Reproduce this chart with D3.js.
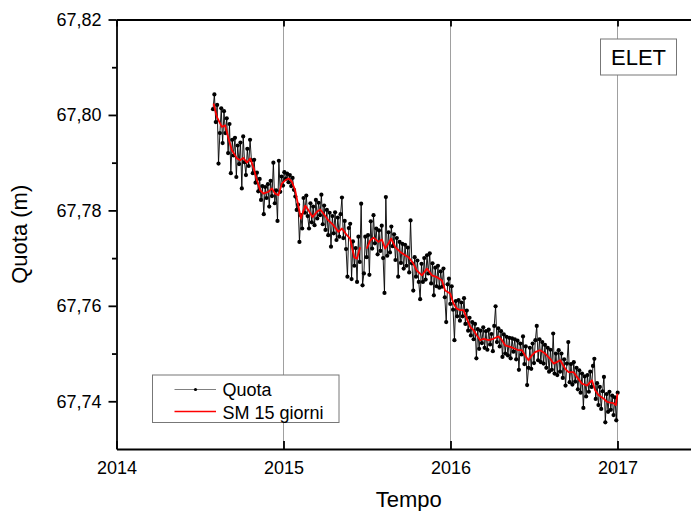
<!DOCTYPE html>
<html>
<head>
<meta charset="utf-8">
<script src="https://cdn.jsdelivr.net/npm/d3@7"></script>
<style>
body { margin: 0; background: #fff; }
svg { display: block; font-family: 'Liberation Sans', Arial, sans-serif; }
</style>
</head>
<body>
<svg id="chart"></svg>
<script>
// Quota: one reading every 3 days from late July 2014 to end of 2016
const quotaStart = 2014.578
const quotaStepDays = 3
const quotaValues = [
    67.8012, 67.8043, 67.7985, 67.8021, 67.7898, 67.7962, 67.8014, 67.7941, 67.8008, 67.7962,
    67.7993, 67.7920, 67.7981, 67.7878, 67.7948, 67.7915, 67.7952, 67.7870, 67.7936, 67.7897,
    67.7942, 67.7846, 67.7955, 67.7901, 67.7874, 67.7929, 67.7893, 67.7948, 67.7905, 67.7878,
    67.7906, 67.7858, 67.7879, 67.7840, 67.7866, 67.7822, 67.7851, 67.7792, 67.7849, 67.7826,
    67.7855, 67.7808, 67.7862, 67.7830, 67.7900, 67.7815, 67.7842, 67.7778, 67.7904, 67.7839,
    67.7871, 67.7852, 67.7880, 67.7866, 67.7877, 67.7859, 67.7874, 67.7851, 67.7868, 67.7843,
    67.7829, 67.7801, 67.7812, 67.7734, 67.7790, 67.7762, 67.7826, 67.7795, 67.7831, 67.7788,
    67.7762, 67.7815, 67.7775, 67.7808, 67.7769, 67.7822, 67.7783, 67.7816, 67.7790, 67.7833,
    67.7771, 67.7810, 67.7759, 67.7801, 67.7748, 67.7795, 67.7724, 67.7788, 67.7752, 67.7796,
    67.7738, 67.7785, 67.7745, 67.7792, 67.7827, 67.7742, 67.7778, 67.7719, 67.7661, 67.7763,
    67.7772, 67.7656, 67.7735, 67.7684, 67.7721, 67.7650, 67.7745, 67.7692, 67.7814, 67.7643,
    67.7668, 67.7745, 67.7702, 67.7748, 67.7665, 67.7777, 67.7720, 67.7790, 67.7731, 67.7762,
    67.7708, 67.7758, 67.7715, 67.7768, 67.7700, 67.7627, 67.7828, 67.7705, 67.7754, 67.7712,
    67.7766, 67.7725, 67.7750, 67.7696, 67.7742, 67.7661, 67.7734, 67.7690, 67.7730, 67.7678,
    67.7728, 67.7684, 67.7722, 67.7670, 67.7779, 67.7689, 67.7632, 67.7702, 67.7661, 67.7695,
    67.7650, 67.7614, 67.7688, 67.7650, 67.7700, 67.7655, 67.7706, 67.7668, 67.7710, 67.7647,
    67.7689, 67.7622, 67.7680, 67.7641, 67.7684, 67.7638, 67.7672, 67.7640, 67.7678, 67.7618,
    67.7566, 67.7645, 67.7657, 67.7604, 67.7641, 67.7592, 67.7528, 67.7610, 67.7578, 67.7612,
    67.7569, 67.7607, 67.7578, 67.7616, 67.7562, 67.7590, 67.7548, 67.7575, 67.7538, 67.7566,
    67.7530, 67.7562, 67.7490, 67.7551, 67.7510, 67.7548, 67.7522, 67.7555, 67.7512, 67.7547,
    67.7508, 67.7550, 67.7519, 67.7541, 67.7505, 67.7558, 67.7599, 67.7524, 67.7553, 67.7515,
    67.7547, 67.7493, 67.7540, 67.7500, 67.7535, 67.7496, 67.7533, 67.7490, 67.7532, 67.7504,
    67.7530, 67.7488, 67.7527, 67.7466, 67.7521, 67.7498, 67.7536, 67.7478, 67.7515, 67.7434,
    67.7470, 67.7512, 67.7468, 67.7521, 67.7480, 67.7528, 67.7558, 67.7486, 67.7530, 67.7482,
    67.7524, 67.7479, 67.7518, 67.7470, 67.7512, 67.7462, 67.7508, 67.7466, 67.7542, 67.7458,
    67.7500, 67.7455, 67.7507, 67.7462, 67.7500, 67.7449, 67.7488, 67.7433, 67.7479, 67.7524,
    67.7440, 67.7478, 67.7435, 67.7482, 67.7441, 67.7470, 67.7425, 67.7465, 67.7418, 67.7458,
    67.7386, 67.7452, 67.7410, 67.7455, 67.7420, 67.7462, 67.7430, 67.7474, 67.7489, 67.7405,
    67.7438, 67.7392, 67.7430, 67.7384, 67.7421, 67.7451, 67.7356, 67.7415, 67.7378, 67.7420,
    67.7382, 67.7412, 67.7371, 67.7408, 67.7360, 67.7418
]

// SM 15 giorni (moving average); null = gap
const smTimes = [
    2014.581, 2014.601, 2014.631, 2014.651, 2014.671, 2014.691, 2014.721, 2014.741, 2014.759, 2014.781,
    2014.801, 2014.820, 2014.841, 2014.861, 2014.880, 2014.910, 2014.931, 2014.950, 2014.970, 2014.990,
    2015.010, 2015.030, 2015.050, 2015.070, 2015.090, 2015.104, 2015.130, 2015.150, 2015.174, 2015.200,
    2015.220, 2015.240, 2015.269, 2015.299, 2015.329, 2015.350, 2015.380, 2015.399, 2015.423, 2015.440,
    2015.459, 2015.480, 2015.499, 2015.519, 2015.539, 2015.569, 2015.589, 2015.609, 2015.629, 2015.645,
    2015.669, 2015.699, 2015.729, 2015.749, 2015.778, 2015.798, 2015.829, 2015.859, 2015.889, 2015.919,
    2015.949, 2015.968, 2015.998, 2016.018, 2016.038, 2016.058, 2016.078, 2016.098, 2016.118, 2016.138,
    2016.158, 2016.178, 2016.198, 2016.228, 2016.257, 2016.287, 2016.308, 2016.328, 2016.357, 2016.387,
    2016.407, 2016.428, 2016.447, 2016.467, 2016.487, 2016.507, 2016.537, 2016.567, 2016.597, 2016.617,
    2016.637, 2016.657, 2016.687, 2016.707, 2016.737, 2016.766, 2016.787, 2016.817, 2016.847, 2016.866,
    2016.886, 2016.916, 2016.936, 2016.956, 2016.976, 2016.990, 2017.000
]
const smValues = [
    67.8024, 67.7996, 67.7975, 67.7978, 67.7950, 67.7926, 67.7909, 67.7905, 67.7910, 67.7900,
    67.7909, 67.7890, 67.7863, 67.7842, 67.7835, 67.7839, 67.7846, 67.7835, 67.7832, 67.7856,
    67.7863, 67.7867, 67.7860, 67.7842, 67.7807, 67.7783, 67.7810, 67.7800, 67.7786, 67.7797,
    67.7802, 67.7793, 67.7779, 67.7769, 67.7755, 67.7762, 67.7748, 67.7741, 67.7702, 67.7699,
    67.7723, null, 67.7720, 67.7737, 67.7743, 67.7734, 67.7739, 67.7720, 67.7731, 67.7741,
    67.7723, 67.7713, 67.7706, 67.7702, 67.7688, 67.7674, 67.7664, 67.7678, 67.7664, 67.7660,
    67.7653, 67.7632, 67.7626, 67.7605, 67.7594, 67.7591, 67.7591, 67.7573, 67.7556, 67.7549,
    67.7538, 67.7528, 67.7531, 67.7528, 67.7531, 67.7536, 67.7528, 67.7517, 67.7514, 67.7510,
    67.7507, 67.7507, 67.7496, 67.7486, 67.7496, 67.7503, 67.7507, 67.7500, 67.7489, 67.7479,
    67.7482, 67.7486, 67.7468, 67.7461, 67.7461, 67.7447, 67.7437, 67.7433, 67.7444, 67.7423,
    67.7413, 67.7406, 67.7399, 67.7397, 67.7396, 67.7392, 67.7416
]

const yearTicks = [2014, 2015, 2016, 2017]
const gridYears = [2015, 2016, 2017]
const quotaTicks = [67.74, 67.76, 67.78, 67.80, 67.82]
const quotaMinorTicks = [67.75, 67.77, 67.79, 67.81]

const width = 691
const height = 511
const margin = { top: 19.5, right: -10, bottom: 62, left: 116.5 }

const svg = d3.select('#chart')
    .attr('width', width)
    .attr('height', height)

const x = d3.scaleLinear()
    .domain([2014, 2017.5])
    .range([margin.left, width - margin.right])

const y = d3.scaleLinear()
    .domain([67.73, 67.82])
    .range([height - margin.bottom, margin.top])

const quota = quotaValues.map((v, i) => ({ t: quotaStart + i * quotaStepDays / 365.25, v: v }))
const sm = smTimes.map((t, i) => ({ t: t, v: smValues[i] }))

// vertical grid
svg.append('g')
    .selectAll('line')
    .data(gridYears)
    .join('line')
    .attr('x1', d => x(d))
    .attr('x2', d => x(d))
    .attr('y1', y(67.82))
    .attr('y2', y(67.73))
    .attr('stroke', '#a0a0a0')
    .attr('stroke-width', 1)

// Quota series
const quotaLine = d3.line()
    .x(d => x(d.t))
    .y(d => y(d.v))

svg.append('path')
    .datum(quota)
    .attr('d', quotaLine)
    .attr('fill', 'none')
    .attr('stroke', '#000')
    .attr('stroke-width', 0.9)

svg.append('g')
    .selectAll('circle')
    .data(quota)
    .join('circle')
    .attr('cx', d => x(d.t))
    .attr('cy', d => y(d.v))
    .attr('r', 2.1)
    .attr('fill', '#000')

// moving average
const smLine = d3.line()
    .defined(d => d.v != null)
    .x(d => x(d.t))
    .y(d => y(d.v))

svg.append('path')
    .datum(sm)
    .attr('d', smLine)
    .attr('fill', 'none')
    .attr('stroke', '#ff0000')
    .attr('stroke-width', 1.8)
    .attr('stroke-linejoin', 'round')

// axes
const fmt = d => d3.format('.2f')(d).replace('.', ',')

const styleAxis = g => {
    g.selectAll('path, line').attr('stroke', '#000').attr('stroke-width', 1.8)
    g.selectAll('text').attr('fill', '#000').attr('font-size', 18)
}

svg.append('g')
    .attr('transform', `translate(${margin.left},0)`)
    .call(d3.axisLeft(y).tickValues(quotaTicks).tickFormat(fmt).tickSize(8).tickSizeOuter(0).tickPadding(7))
    .call(styleAxis)

svg.append('g')
    .attr('transform', `translate(${margin.left},0)`)
    .call(d3.axisLeft(y).tickValues(quotaMinorTicks).tickFormat('').tickSize(4.5).tickSizeOuter(0))
    .call(g => g.select('.domain').remove())
    .call(styleAxis)

svg.append('g')
    .attr('transform', `translate(0,${y(67.73)})`)
    .call(d3.axisBottom(x).tickValues(yearTicks).tickFormat(d3.format('d')).tickSize(-8).tickSizeOuter(0).tickPadding(12))
    .call(styleAxis)

svg.append('g')
    .attr('transform', `translate(0,${y(67.82)})`)
    .call(d3.axisTop(x).tickValues(yearTicks).tickFormat('').tickSize(-7).tickSizeOuter(0))
    .call(styleAxis)

// axis titles
svg.append('text')
    .attr('transform', `translate(27,${(y(67.73) + y(67.82)) / 2}) rotate(-90)`)
    .attr('text-anchor', 'middle')
    .attr('font-size', 22)
    .text('Quota (m)')

svg.append('text')
    .attr('x', (x(2014) + x(2017.5)) / 2)
    .attr('y', 507)
    .attr('text-anchor', 'middle')
    .attr('font-size', 22)
    .text('Tempo')

// station label
const tag = svg.append('g')
tag.append('rect')
    .attr('x', 600.5).attr('y', 39)
    .attr('width', 76).attr('height', 36)
    .attr('fill', '#fff')
    .attr('stroke', '#777')
    .attr('stroke-width', 1)
tag.append('text')
    .attr('x', 638.5).attr('y', 65)
    .attr('text-anchor', 'middle')
    .attr('font-size', 22)
    .text('ELET')

// legend
const legend = svg.append('g')
legend.append('rect')
    .attr('x', 152.5).attr('y', 375)
    .attr('width', 186.5).attr('height', 47.5)
    .attr('fill', '#fff')
    .attr('stroke', '#777')
    .attr('stroke-width', 1)

legend.append('line')
    .attr('x1', 174.5).attr('x2', 216).attr('y1', 389.5).attr('y2', 389.5)
    .attr('stroke', '#808080').attr('stroke-width', 1)
legend.append('circle')
    .attr('cx', 195.5).attr('cy', 389.5).attr('r', 1.6).attr('fill', '#000')
legend.append('text')
    .attr('x', 222.5).attr('y', 396)
    .attr('font-size', 18)
    .text('Quota')

legend.append('line')
    .attr('x1', 174.5).attr('x2', 216).attr('y1', 411.5).attr('y2', 411.5)
    .attr('stroke', '#ff0000').attr('stroke-width', 1.5)
legend.append('text')
    .attr('x', 222.5).attr('y', 418.5)
    .attr('font-size', 18)
    .text('SM 15 giorni')
</script>
</body>
</html>
